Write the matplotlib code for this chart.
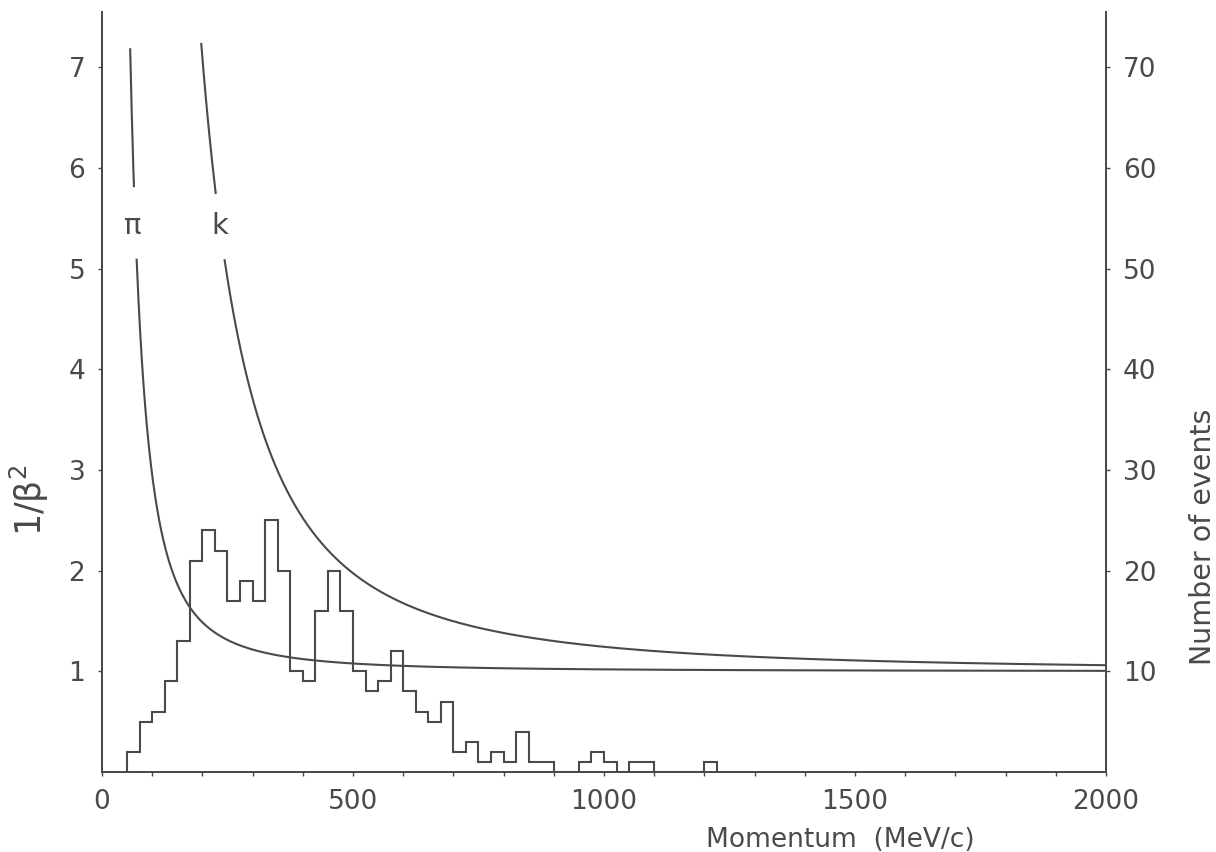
import numpy as np
import matplotlib.pyplot as plt

# Histogram: momentum bins (MeV/c), 25 MeV wide, and number of events
bin_edges = list(range(50, 1226, 25))
counts = [2, 5, 6, 9, 13, 21, 24, 22, 17, 19, 17, 25, 20, 10, 9, 16, 20, 16,
          10, 8, 9, 12, 8, 6, 5, 7, 2, 3, 1, 2, 1, 4, 1, 1, 0, 0, 1, 2, 1, 0,
          1, 1, 0, 0, 0, 0, 1]

# Particle masses (MeV/c^2) for the 1/beta^2 = 1 + m^2/p^2 curves
particles = ['π', 'k']
masses = [139.57, 493.68]
label_x = [62, 235]

x_ticks = list(range(0, 2001, 100))
x_ticklabels = [str(v) if v % 500 == 0 else '' for v in x_ticks]
left_ticks = [1, 2, 3, 4, 5, 6, 7]
right_ticks = [10, 20, 30, 40, 50, 60, 70]

INK = '#4a4a4a'
plt.rcParams['font.family'] = 'DejaVu Sans'

fig = plt.figure(figsize=(12.16, 8.52), dpi=100)
ax = fig.add_axes([102 / 1216, 80 / 852, 1004 / 1216, 760 / 852])
ax.set_xlim(0, 2000)
ax.set_ylim(0, 7.55)

# kinematic curves, with a gap where the particle label sits
p = np.linspace(20, 2000, 4000)
for name, m, lx in zip(particles, masses, label_x):
    y = 1 + (m / p) ** 2
    y = np.where((y > 7.25) | ((y > 5.1) & (y < 5.75)), np.nan, y)
    ax.plot(p, y, color=INK, lw=1.5)
    ax.text(lx, 5.42, name, ha='center', va='center', fontsize=21, color=INK)

ax2 = ax.twinx()
ax2.set_ylim(0, 75.5)
ax2.stairs(counts, bin_edges, baseline=0, fill=False, color=INK, lw=1.5)

for a in (ax, ax2):
    a.spines['top'].set_visible(False)
    for s in ('left', 'right', 'bottom'):
        a.spines[s].set_color(INK)
        a.spines[s].set_linewidth(1.4)
    a.tick_params(direction='out', length=3, width=1, color=INK,
                  labelcolor=INK, labelsize=19, pad=9)

ax.set_xticks(x_ticks)
ax.set_xticklabels(x_ticklabels)
ax.set_yticks(left_ticks)
ax2.set_yticks(right_ticks)

ax.set_xlabel('Momentum  (MeV/c)', fontsize=19, color=INK)
ax.xaxis.set_label_coords(0.735, -0.072)
fig.text(29 / 1216, 1 - 500 / 852, '1/β$^2$', rotation=90, ha='center',
         va='center', fontsize=25, color=INK)
fig.text(1203 / 1216, 1 - 537 / 852, 'Number of events', rotation=90,
         ha='center', va='center', fontsize=20.5, color=INK)

fig.savefig('out.png', dpi=100, facecolor='white')
